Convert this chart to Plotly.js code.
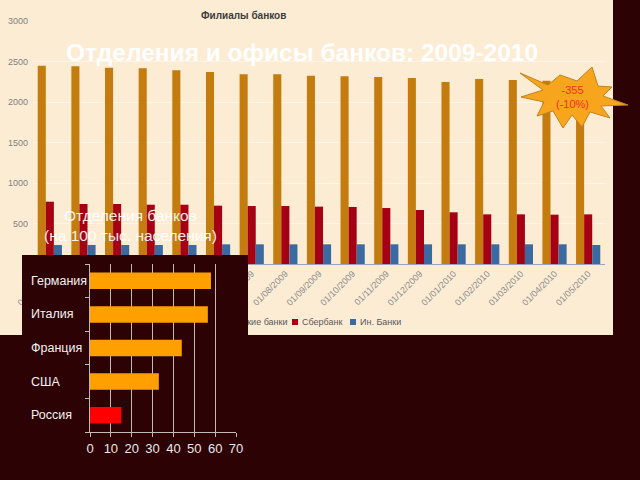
<!DOCTYPE html>
<html><head><meta charset="utf-8">
<script src="https://cdn.plot.ly/plotly-3.0.1.min.js"></script>
<style>
html,body{margin:0;padding:0;background:#2d0204;}
#wrap{position:relative;width:640px;height:480px;overflow:hidden;}
#main,#inset{position:absolute;left:0;top:0;width:640px;height:480px;}
</style></head><body>
<div id="wrap"><div id="main"></div><div id="inset"></div></div>
<script>
// ---- data: bank branches (Филиалы банков) ----
const dates = ['01/01/2009','01/02/2009','01/03/2009','01/04/2009','01/05/2009','01/06/2009','01/07/2009','01/08/2009','01/09/2009','01/10/2009','01/11/2009','01/12/2009','01/01/2010','01/02/2010','01/03/2010','01/04/2010','01/05/2010'];
const ruBanks = [2448,2440,2424,2416,2391,2370,2342,2342,2325,2317,2309,2296,2247,2284,2272,2262,2253];
const sberbank = [769,741,741,732,732,720,716,716,708,704,691,667,638,613,613,609,613];
const foreignBanks = [235,235,235,235,235,243,243,243,243,243,243,243,243,243,243,243,235];
const seriesNames = ['Российские банки','Сбербанк','Ин. Банки'];
const yTicks = [0,500,1000,1500,2000,2500,3000];
// ---- data: branches per 100k population ----
const countries = ['Германия','Италия','Франция','США','Россия'];
const branchesPer100k = [58,56.5,44,33,15];
const xTicksInset = [0,10,20,30,40,50,60,70];
// ---- texts ----
const chartTitle = 'Филиалы банков';
const slideTitle = 'Отделения и офисы банков: 2009-2010';
const starText = '-355<br>(-10%)';
const insetTitle = 'Отделения банков<br>(на 100 тыс. населения)';

const W = 640, H = 480;
const px = x => x / W;
const py = y => 1 - y / H;
const FONT = 'Liberation Sans, Arial, sans-serif';
const BG = '#2d0204';
const CREAM = '#fdecd4';
const seriesColors = ['#c47c0e','#a50014','#3b6aa0'];

// starburst outline (pixel coords): tip, inner, tip, inner ...
const starPts = [[520,73],[548,85],[560,75],[577,81],[592,67],[598,86],[612,87],[603,96],[628,105],[601,106],[610,118],[590,112],[582,127],[572,115],[563,128],[553,111],[537,116],[544,102],[521,97],[543,90]];
const starPath = 'M' + starPts.map(p => px(p[0]).toFixed(4) + ',' + py(p[1]).toFixed(4)).join(' L') + ' Z';

// legend placement (pixels) – drawn manually to match compact spreadsheet legend
const legendIconX = [206, 295, 353];
const legendY = 322;

const mainTraces = [ruBanks, sberbank, foreignBanks].map((vals, i) => ({
  type: 'bar', x: dates, y: vals, name: seriesNames[i],
  marker: {color: seriesColors[i]}, hoverinfo: 'skip', showlegend: false
}));

const legendShapes = seriesNames.map((n, i) => ({
  type: 'rect', xref: 'paper', yref: 'paper',
  x0: px(legendIconX[i] - 3), x1: px(legendIconX[i] + 3),
  y0: py(legendY + 3), y1: py(legendY - 3),
  fillcolor: seriesColors[i], line: {width: 0}, layer: 'above'
}));
const legendTexts = seriesNames.map((n, i) => ({
  xref: 'paper', yref: 'paper', x: px(legendIconX[i] + 5), y: py(legendY),
  xanchor: 'left', yanchor: 'middle', text: n, showarrow: false,
  font: {size: 9, color: '#595959', family: FONT}
}));

const mainLayout = {
  width: W, height: H, margin: {l:0, r:0, t:0, b:0},
  paper_bgcolor: BG, plot_bgcolor: 'rgba(0,0,0,0)',
  font: {family: FONT},
  barmode: 'group', bargap: 0.28, bargroupgap: 0,
  xaxis: {type: 'category', domain: [px(33), px(605)], tickangle: -45,
    tickfont: {size: 9, color: '#8c8c8c', family: FONT}, showline: true, linecolor: '#98a4ba',
    linewidth: 1, ticks: '', showgrid: false, fixedrange: true},
  yaxis: {domain: [py(264), py(21)], range: [0, 3000], tickvals: yTicks,
    tickfont: {size: 9, color: '#808080', family: FONT}, showgrid: true,
    gridcolor: 'rgba(255,255,255,0.45)', zeroline: false, showline: false, ticklabelstandoff: 4, fixedrange: true},
  showlegend: false,
  shapes: [
    {type: 'rect', xref: 'paper', yref: 'paper', x0: 0, x1: px(613), y0: py(335), y1: 1,
     fillcolor: CREAM, line: {width: 0}, layer: 'below'},
    {type: 'path', xref: 'paper', yref: 'paper', path: starPath,
     fillcolor: '#f8a51e', line: {color: '#c08321', width: 1}, layer: 'above'}
  ].concat(legendShapes),
  annotations: [
    {xref: 'paper', yref: 'paper', x: px(243), y: py(16), xanchor: 'center', yanchor: 'middle',
     text: '<b>' + chartTitle + '</b>', showarrow: false,
     font: {size: 10, color: '#3c3c3c', family: FONT}},
    {xref: 'paper', yref: 'paper', x: px(302), y: py(53), xanchor: 'center', yanchor: 'middle',
     text: '<b>' + slideTitle + '</b>', showarrow: false,
     font: {size: 24.5, color: '#ffffff', family: FONT}},
    {xref: 'paper', yref: 'paper', x: px(572), y: py(97), xanchor: 'center', yanchor: 'middle',
     text: starText, showarrow: false,
     font: {size: 11, color: '#ff2a2a', family: FONT}}
  ].concat(legendTexts)
};

Plotly.newPlot('main', mainTraces, mainLayout, {staticPlot: true});

// ---- inset ----
const insetColors = countries.map(c => c === 'Россия' ? '#ff0000' : '#ffa000');
const insetTrace = {
  type: 'bar', orientation: 'h', x: branchesPer100k, y: countries,
  marker: {color: insetColors}, hoverinfo: 'skip'
};
const gridC = '#c4b8b8';
const insetLayout = {
  width: W, height: H, margin: {l:0, r:0, t:0, b:0},
  paper_bgcolor: 'rgba(0,0,0,0)', plot_bgcolor: 'rgba(0,0,0,0)',
  font: {family: FONT}, showlegend: false, bargap: 0.51,
  xaxis: {domain: [px(90), px(236)], range: [0, 70], tickvals: xTicksInset,
    showgrid: true, gridcolor: gridC, gridwidth: 1, showline: true, linecolor: gridC,
    ticks: 'outside', ticklen: 4, tickcolor: gridC, zeroline: false,
    tickfont: {size: 13, color: '#e8e8e8', family: FONT}, fixedrange: true},
  yaxis: {domain: [py(432), py(264)], type: 'category', categoryorder: 'array',
    categoryarray: countries.slice().reverse(), showticklabels: false,
    ticks: 'outside', tickson: 'boundaries', ticklen: 4, tickcolor: gridC,
    showline: true, linecolor: gridC, showgrid: false, zeroline: false, fixedrange: true},
  shapes: [
    {type: 'rect', xref: 'paper', yref: 'paper', x0: px(22), x1: px(248), y0: 0, y1: py(255),
     fillcolor: BG, line: {width: 0}, layer: 'below'}
  ],
  annotations: countries.map(c => ({
    xref: 'paper', yref: 'y', x: px(29), y: c, xanchor: 'left', yanchor: 'middle', text: c, showarrow: false,
    font: {size: 12.5, color: '#f2f2f2', family: FONT}
  })).concat([
    {xref: 'paper', yref: 'paper', x: px(130), y: py(225), xanchor: 'center', yanchor: 'middle',
     text: insetTitle, showarrow: false,
     font: {size: 15.5, color: 'rgba(255,255,255,0.92)', family: FONT}}
  ])
};
Plotly.newPlot('inset', [insetTrace], insetLayout, {staticPlot: true});
</script>
</body></html>
